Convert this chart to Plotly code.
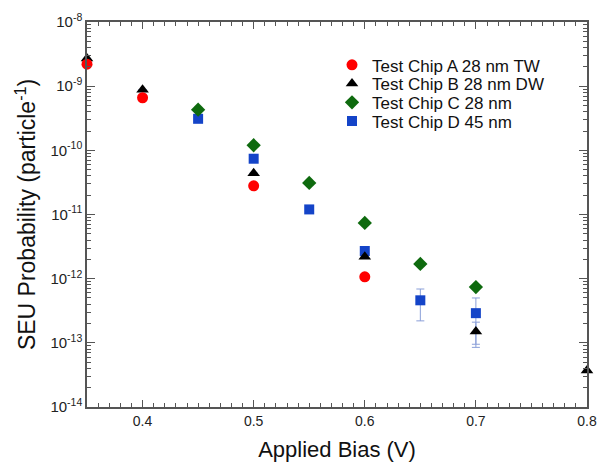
import plotly.graph_objects as go

# Applied bias (V) and SEU probability per particle for each test chip
bias_a = [0.35, 0.40, 0.50, 0.60]
seu_a = [2.2e-9, 6.6e-10, 2.8e-11, 1.07e-12]

bias_b = [0.35, 0.40, 0.50, 0.60, 0.70, 0.80]
seu_b = [2.7e-9, 8.8e-10, 4.4e-11, 2.2e-12, 1.5e-13, 3.7e-14]
err_b_up = [None, None, None, None, 0.6e-13, None]
err_b_dn = [None, None, None, None, 0.65e-13, None]

bias_c = [0.45, 0.50, 0.55, 0.60, 0.65, 0.70]
seu_c = [4.3e-10, 1.2e-10, 3.1e-11, 7.4e-12, 1.7e-12, 7.4e-13]

bias_d = [0.45, 0.50, 0.55, 0.60, 0.65, 0.70]
seu_d = [3.1e-10, 7.4e-11, 1.2e-11, 2.7e-12, 4.6e-13, 2.9e-13]
err_d_up = [None, None, None, None, 2.3e-13, 2.1e-13]
err_d_dn = [None, None, None, None, 2.4e-13, 1.95e-13]

names = ["Test Chip A 28 nm TW", "Test Chip B 28 nm DW",
         "Test Chip C 28 nm", "Test Chip D 45 nm"]

y_decades = [-14, -13, -12, -11, -10, -9, -8]

FONT = "Liberation Sans, Arial, Helvetica, sans-serif"
AX = "#555555"
ERR = "#8a9fd8"

fig = go.Figure()

fig.add_trace(go.Scatter(
    x=bias_d, y=seu_d, mode="markers", name=names[3], legend="legend4",
    cliponaxis=False,
    marker=dict(symbol="square", size=10, color="#1444c8"),
    error_y=dict(type="data", symmetric=False, array=err_d_up,
                 arrayminus=err_d_dn, color=ERR, thickness=1, width=4),
))
fig.add_trace(go.Scatter(
    x=bias_b, y=seu_b, mode="markers", name=names[1], legend="legend2",
    cliponaxis=False,
    marker=dict(symbol="triangle-up", size=11, color="#000000"),
    error_y=dict(type="data", symmetric=False, array=err_b_up,
                 arrayminus=err_b_dn, color=ERR, thickness=1, width=4),
))
fig.add_trace(go.Scatter(
    x=bias_a, y=seu_a, mode="markers", name=names[0], legend="legend",
    cliponaxis=False,
    marker=dict(symbol="circle", size=11, color="#ff0000"),
))
fig.add_trace(go.Scatter(
    x=bias_c, y=seu_c, mode="markers", name=names[2], legend="legend3",
    cliponaxis=False,
    marker=dict(symbol="diamond", size=11, color="#0e6a0e"),
))

# one legend box per row so the rows sit close together
top, bottom = 18, 409
row_px = [62, 81, 100, 119]
leg_common = dict(x=0.490, xanchor="left", yanchor="middle",
                  bgcolor="rgba(0,0,0,0)", borderwidth=0,
                  font=dict(family=FONT, size=17, color="#111111"),
                  itemwidth=30)
legends = {}
for key, ypx in zip(["legend", "legend2", "legend3", "legend4"], row_px):
    legends[key] = dict(y=1 - (ypx - top) / (bottom - top), **leg_common)

minor_y = [k * 10.0 ** e for e in y_decades[:-1] for k in range(2, 10)]

fig.update_layout(
    width=608, height=469,
    margin=dict(l=87, r=11, t=18, b=60),
    paper_bgcolor="white", plot_bgcolor="white",
    font=dict(family=FONT, color="#222222"),
    showlegend=True,
    **legends,
    xaxis=dict(
        range=[0.35, 0.8], tick0=0.4, dtick=0.1,
        ticks="inside", ticklen=7, tickcolor=AX, tickwidth=1,
        showline=True, linecolor=AX, linewidth=1.5, mirror="allticks",
        showgrid=False, zeroline=False,
        tickfont=dict(size=14, color="#222222"),
        minor=dict(dtick=0.01, ticks="inside", ticklen=4, tickcolor=AX,
                   showgrid=False),
        title=dict(text="Applied Bias (V)", font=dict(size=22, color="#111111"),
                   standoff=14),
    ),
    yaxis=dict(
        type="log", range=[-14, -8],
        tickvals=[10.0 ** e for e in y_decades],
        ticktext=[f"10<sup>{e}</sup>" for e in y_decades],
        ticks="inside", ticklen=8, tickcolor=AX, tickwidth=1,
        showline=True, linecolor=AX, linewidth=1.5, mirror="allticks",
        showgrid=False, zeroline=False,
        tickfont=dict(size=15, color="#222222"),
        minor=dict(tickvals=minor_y, ticks="inside", ticklen=4, tickcolor=AX,
                   showgrid=False),
        title=dict(text="SEU Probability (particle<sup>-1</sup>)",
                   font=dict(size=23, color="#111111"), standoff=8),
    ),
)

fig.write_html("out.html")
